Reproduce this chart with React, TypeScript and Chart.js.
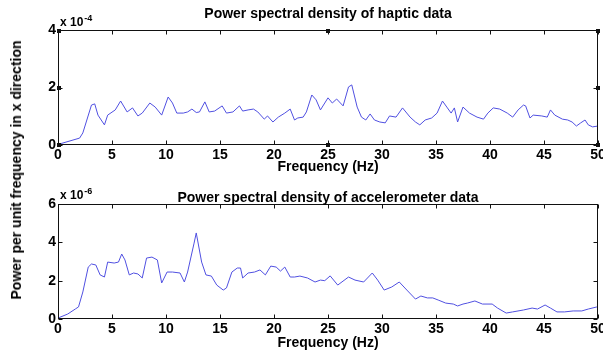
import React, { useEffect, useRef } from 'react';
import { Chart, registerables } from 'chart.js';

Chart.register(...registerables);

const FONT = 'Arial, "Liberation Sans", Helvetica, sans-serif';

// Top panel: haptic data PSD (values in units of 1e-4)
const hapticTitle = 'Power spectral density of haptic data';
const hapticExponent = '-4';
const hapticYTicks = [0, 2, 4];
const hapticFreq = [
  0, 2.0, 2.3, 3.1, 3.4, 3.7, 4.3, 4.6, 5.3, 5.8, 6.4, 6.9, 7.4, 7.8, 8.5, 9.0, 9.6, 10.2, 10.6, 11.0,
  11.6, 12.0, 12.4, 12.8, 13.1, 13.6, 14.0, 14.5, 15.2, 15.6, 16.2, 16.8, 17.1, 17.6, 18.1, 18.5, 19.1,
  19.4, 19.9, 20.4, 21.0, 21.5, 21.9, 22.2, 22.7, 23.0, 23.5, 23.9, 24.3, 24.7, 25.0, 25.4, 25.8, 26.4,
  26.9, 27.2, 27.7, 28.1, 28.5, 28.9, 29.3, 29.8, 30.3, 30.7, 31.3, 31.9, 32.6, 33.1, 33.5, 34.0, 34.6,
  35.1, 35.6, 36.0, 36.4, 36.7, 37.0, 37.5, 38.1, 38.8, 39.4, 39.8, 40.3, 40.9, 41.6, 42.1, 42.6, 43.1,
  43.3, 43.7, 44.0, 44.8, 45.3, 45.6, 46.0, 46.7, 47.2, 47.6, 48.0, 48.4, 48.8, 49.1, 49.5, 50.0,
];
const hapticPsd = [
  0.02, 0.24, 0.42, 1.39, 1.43, 1.04, 0.70, 1.04, 1.22, 1.53, 1.15, 1.29, 1.01, 1.11, 1.46, 1.32, 1.04, 1.67, 1.46, 1.11,
  1.11, 1.15, 1.25, 1.13, 1.15, 1.50, 1.15, 1.18, 1.36, 1.11, 1.15, 1.36, 1.18, 1.22, 1.25, 1.15, 0.90,
  1.01, 0.80, 0.97, 1.11, 1.25, 0.87, 0.94, 0.97, 1.15, 1.74, 1.57, 1.22, 1.46, 1.64, 1.46, 1.60, 1.36,
  2.02, 2.09, 1.32, 0.97, 0.87, 1.08, 0.87, 0.80, 0.77, 1.01, 0.97, 1.29, 0.97, 0.80, 0.70, 0.87, 0.94,
  1.11, 1.53, 1.32, 1.11, 1.29, 0.80, 1.32, 1.11, 0.97, 0.90, 1.11, 1.29, 1.25, 1.11, 0.97, 1.22, 1.39,
  1.36, 0.94, 1.04, 1.01, 0.97, 1.22, 1.04, 0.90, 0.87, 0.80, 0.66, 0.77, 0.87, 0.70, 0.63, 0.66,
];

// Bottom panel: accelerometer data PSD (values in units of 1e-6)
const accelTitle = 'Power spectral density of accelerometer data';
const accelExponent = '-6';
const accelYTicks = [0, 2, 4, 6];
const accelFreq = [
  0, 0.9, 1.6, 1.9, 2.3, 2.8, 3.1, 3.5, 3.9, 4.3, 4.6, 5.2, 5.6, 5.9, 6.2, 6.6, 7.0, 7.4, 7.8, 8.2, 8.7,
  9.2, 9.6, 10.1, 10.6, 11.3, 11.7, 12.0, 12.6, 12.8, 13.3, 13.7, 14.2, 14.7, 15.3, 15.6, 16.1, 16.6,
  16.9, 17.1, 17.6, 18.2, 18.7, 19.2, 19.7, 20.2, 20.6, 21.0, 21.5, 21.9, 22.4, 23.1, 23.8, 24.3, 24.7,
  25.2, 25.9, 26.9, 27.5, 28.3, 29.1, 29.6, 30.2, 30.9, 31.6, 32.3, 33.1, 33.6, 34.2, 34.7, 35.2, 35.9,
  36.6, 37.0, 37.5, 37.9, 38.6, 39.3, 40.2, 40.7, 41.5, 42.1, 43.1, 43.9, 44.4, 45.1, 45.6, 46.2, 46.9,
  47.7, 48.5, 49.1, 49.9,
];
const accelPsd = [
  0.05, 0.26, 0.52, 0.63, 1.41, 2.71, 2.87, 2.82, 2.30, 2.19, 2.97, 2.92, 2.97, 3.39, 3.08, 2.30, 2.40, 2.35, 2.14, 3.18, 3.23,
  3.08, 1.88, 2.45, 2.45, 2.40, 1.93, 2.45, 3.96, 4.49, 2.97, 2.30, 2.24, 1.77, 1.51, 1.62, 2.45, 2.66,
  2.66, 2.14, 2.40, 2.45, 2.56, 2.30, 2.76, 2.71, 2.50, 2.71, 2.19, 2.19, 2.24, 2.14, 1.93, 2.03, 2.00,
  2.25, 1.77, 2.19, 2.03, 1.93, 2.40, 2.03, 1.51, 1.67, 1.93, 1.51, 1.04, 1.20, 1.10, 1.10, 0.99, 0.83,
  0.78, 0.68, 0.78, 0.83, 0.94, 0.78, 0.78, 0.57, 0.31, 0.37, 0.47, 0.57, 0.52, 0.73, 0.57, 0.37, 0.37,
  0.42, 0.42, 0.52, 0.63,
];

const xTickValues = [0, 5, 10, 15, 20, 25, 30, 35, 40, 45, 50];
const xAxisTitle = 'Frequency (Hz)';
const yAxisTitle = 'Power per unit frequency in x direction';

const framePlugin = {
  id: 'matlabFrame',
  afterDraw(chart: any, _args: any, opts: any) {
    const { ctx, chartArea: a, scales } = chart;
    ctx.save();
    const L = Math.round(a.left) + 0.5;
    const R = Math.round(a.right) - 0.5;
    const T = Math.round(a.top) + 0.5;
    const B = Math.round(a.bottom) - 0.5;
    ctx.strokeStyle = '#111';
    ctx.lineWidth = 1;
    ctx.strokeRect(L, T, R - L, B - T);
    const len = 4;
    ctx.beginPath();
    scales.x.ticks.forEach((t: any) => {
      const px = Math.round(scales.x.getPixelForValue(t.value)) + 0.5;
      ctx.moveTo(px, B);
      ctx.lineTo(px, B - len);
      ctx.moveTo(px, T);
      ctx.lineTo(px, T + len);
    });
    scales.y.ticks.forEach((t: any) => {
      const py = Math.round(scales.y.getPixelForValue(t.value)) + 0.5;
      ctx.moveTo(L, py);
      ctx.lineTo(L + len, py);
      ctx.moveTo(R, py);
      ctx.lineTo(R - len, py);
    });
    ctx.stroke();

    // title centred over the plot box
    ctx.fillStyle = '#000';
    ctx.font = `bold 14px ${FONT}`;
    ctx.textAlign = 'center';
    ctx.textBaseline = 'middle';
    ctx.fillText(opts.title, (a.left + a.right) / 2, a.top - opts.titleOffset);

    // exponent label "x 10^-n"
    ctx.textAlign = 'left';
    ctx.textBaseline = 'alphabetic';
    ctx.font = `bold 12px ${FONT}`;
    const base = 'x 10';
    const bx = a.left + 2;
    ctx.fillText(base, bx, a.top - opts.expBase);
    const w = ctx.measureText(base).width;
    ctx.font = `bold 9px ${FONT}`;
    ctx.fillText(opts.exponent, bx + w + 1, a.top - opts.expBase - 5);

    // selection handles
    if (opts.handles) {
      const mx = (L + R) / 2;
      const my = (T + B) / 2;
      const pts = [
        [L, T], [mx, T], [R, T],
        [L, my], [R, my],
        [L, B], [mx, B], [R, B],
      ];
      ctx.fillStyle = '#111';
      pts.forEach(([x, y]) => ctx.fillRect(Math.round(x) - 2, Math.round(y) - 2, 4, 4));
    }
    ctx.restore();
  },
};

type PanelProps = {
  freq: number[];
  values: number[];
  yTicks: number[];
  title: string;
  exponent: string;
  padTop: number;
  xAxisHeight: number;
  titleOffset: number;
  expBase: number;
  xTitlePadBottom: number;
  handles: boolean;
};

function PsdPanel(p: PanelProps) {
  const ref = useRef<HTMLCanvasElement | null>(null);
  useEffect(() => {
    if (!ref.current) return;
    const points = p.freq.map((f, i) => ({ x: f, y: p.values[i] }));
    const yMax = p.yTicks[p.yTicks.length - 1];
    const chart = new Chart(ref.current, {
      type: 'line',
      data: {
        datasets: [
          {
            data: points,
            borderColor: 'rgb(80, 80, 225)',
            borderWidth: 1,
            pointRadius: 0,
            tension: 0,
            fill: false,
          },
        ],
      },
      options: {
        responsive: false,
        animation: false,
        devicePixelRatio: 1,
        layout: { padding: { top: p.padTop, right: 5, left: 0, bottom: 0 } },
        plugins: {
          legend: { display: false },
          tooltip: { enabled: false },
          title: { display: false },
          matlabFrame: {
            title: p.title,
            exponent: p.exponent,
            titleOffset: p.titleOffset,
            expBase: p.expBase,
            handles: p.handles,
          },
        } as any,
        scales: {
          x: {
            type: 'linear',
            min: 0,
            max: 50,
            grid: { display: false, drawTicks: false, tickLength: 0 },
            border: { display: false },
            afterBuildTicks: (s: any) => {
              s.ticks = xTickValues.map((v) => ({ value: v }));
            },
            afterFit: (s: any) => {
              s.height = p.xAxisHeight;
              s.paddingLeft = 0;
              s.paddingRight = 0;
            },
            ticks: {
              color: '#000',
              font: { family: FONT, size: 14, weight: 'bold' },
              padding: 2,
              maxRotation: 0,
              autoSkip: false,
            },
            title: {
              display: true,
              text: xAxisTitle,
              color: '#000',
              font: { family: FONT, size: 14, weight: 'bold' },
              padding: { top: 0, bottom: p.xTitlePadBottom },
            },
          },
          y: {
            type: 'linear',
            min: 0,
            max: yMax,
            grid: { display: false, drawTicks: false, tickLength: 0 },
            border: { display: false },
            afterBuildTicks: (s: any) => {
              s.ticks = p.yTicks.map((v) => ({ value: v }));
            },
            afterFit: (s: any) => {
              s.width = 58;
              s.paddingTop = 0;
              s.paddingBottom = 0;
            },
            ticks: {
              color: '#000',
              font: { family: FONT, size: 14, weight: 'bold' },
              padding: 2,
              autoSkip: false,
            },
          },
        },
      } as any,
      plugins: [framePlugin],
    });
    return () => chart.destroy();
  }, []);
  return <canvas ref={ref} width={603} height={177} style={{ display: 'block', width: 603, height: 177 }} />;
}

export default function App() {
  return (
    <div style={{ position: 'absolute', left: 0, top: 0, width: 603, height: 354, background: '#fff', overflow: 'hidden' }}>
      <PsdPanel
        freq={hapticFreq}
        values={hapticPsd}
        yTicks={hapticYTicks}
        title={hapticTitle}
        exponent={hapticExponent}
        padTop={30}
        xAxisHeight={32}
        titleOffset={16}
        expBase={4}
        xTitlePadBottom={1}
        handles={true}
      />
      <PsdPanel
        freq={accelFreq}
        values={accelPsd}
        yTicks={accelYTicks}
        title={accelTitle}
        exponent={accelExponent}
        padTop={27}
        xAxisHeight={35}
        titleOffset={6}
        expBase={5}
        xTitlePadBottom={2}
        handles={false}
      />
      <div
        style={{
          position: 'absolute',
          left: 16,
          top: 170,
          transform: 'translate(-50%, -50%) rotate(-90deg)',
          whiteSpace: 'nowrap',
          font: `bold 14px ${FONT}`,
          lineHeight: '16px',
          color: '#000',
        }}
      >
        {yAxisTitle}
      </div>
    </div>
  );
}
